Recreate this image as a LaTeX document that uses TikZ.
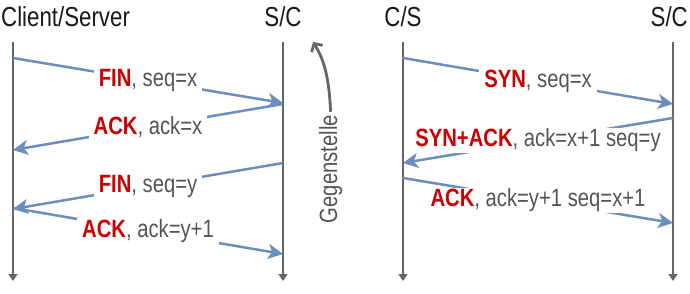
\documentclass[tikz,border=0pt]{standalone}
\usepackage{fontspec}
\setmainfont{Liberation Sans}[FakeStretch=0.81]
\usetikzlibrary{arrows.meta}
\definecolor{lifegray}{HTML}{666666}
\definecolor{msgblue}{HTML}{6C8EBF}
\definecolor{keyred}{HTML}{CC0000}
\definecolor{txtgray}{HTML}{555555}
\definecolor{headblack}{HTML}{1A1A1A}
\tikzset{
  lifeline/.style={draw=lifegray, line width=2.8pt, -{Triangle[length=7pt,width=9pt]}},
  msgline/.style={draw=msgblue, line width=2.5pt, -{Stealth[length=15pt,width=15pt,inset=4pt]}},
  lbl/.style={fill=white, inner xsep=5pt, inner ysep=1pt, text=txtgray, font=\fontsize{25}{27}\selectfont},
  head/.style={inner sep=0pt, text=headblack, font=\fontsize{27.5}{29}\selectfont},
  gtext/.style={inner sep=3pt, text=txtgray, font=\fontsize{25}{27}\selectfont},
  garrow/.style={draw=lifegray, line width=2.8pt, -{Straight Barb[length=6pt,width=13pt]}},
}
\newcommand{\kw}[1]{\textcolor{keyred}{\bfseries #1}}
\begin{document}
\begin{tikzpicture}[x=1pt,y=-1pt]
\useasboundingbox (0,0) rectangle (690,294);

% lifelines
\coordinate (L1t) at (13,42);  \coordinate (L1b) at (13,281);
\coordinate (R1t) at (283,42); \coordinate (R1b) at (283,281);
\coordinate (L2t) at (403,42); \coordinate (L2b) at (403,281);
\coordinate (R2t) at (673,42); \coordinate (R2b) at (673,281);
\draw[lifeline] (L1t) -- (L1b);
\draw[lifeline] (R1t) -- (R1b);
\draw[lifeline] (L2t) -- (L2b);
\draw[lifeline] (R2t) -- (R2b);

% headings
\node[head, anchor=base west] (h1) at (1,27) {Client/Server};
\node[head, anchor=base] (h2) at (283,27) {S/C};
\node[head, anchor=base] (h3) at (403,27) {C/S};
\node[head, anchor=base east] (h4) at (688,27) {S/C};

% connection teardown
\coordinate (a1) at (13,58);   \coordinate (b1) at (283,103);
\coordinate (b2) at (283,104); \coordinate (a2) at (13,150);
\coordinate (b3) at (283,163); \coordinate (a3) at (13,209);
\coordinate (a4) at (13,208);  \coordinate (b4) at (283,254);
\draw[msgline] (a1) -- node[lbl] {\kw{FIN}, seq=x} (b1);
\draw[msgline] (b2) -- node[lbl] {\kw{ACK}, ack=x} (a2);
\draw[msgline] (b3) -- node[lbl] {\kw{FIN}, seq=y} (a3);
\draw[msgline] (a4) -- node[lbl] {\kw{ACK}, ack=y+1} (b4);

% peer side note
\node[gtext, rotate=90, anchor=base] (gegen) at (337,169) {Gegenstelle};
\draw[garrow] (gegen.east) .. controls (329,70) and (321,55) .. (313,42);

% connection setup
\coordinate (c1) at (403,58);  \coordinate (d1) at (673,104);
\coordinate (d2) at (673,118); \coordinate (c2) at (403,163);
\coordinate (c3) at (403,178); \coordinate (d3) at (673,223);
\draw[msgline] (c1) -- node[lbl] {\kw{SYN}, seq=x} (d1);
\draw[msgline] (d2) -- node[lbl] {\kw{SYN+ACK}, ack=x+1 seq=y} (c2);
\draw[msgline] (c3) -- node[lbl] {\kw{ACK}, ack=y+1 seq=x+1} (d3);
\end{tikzpicture}
\end{document}
